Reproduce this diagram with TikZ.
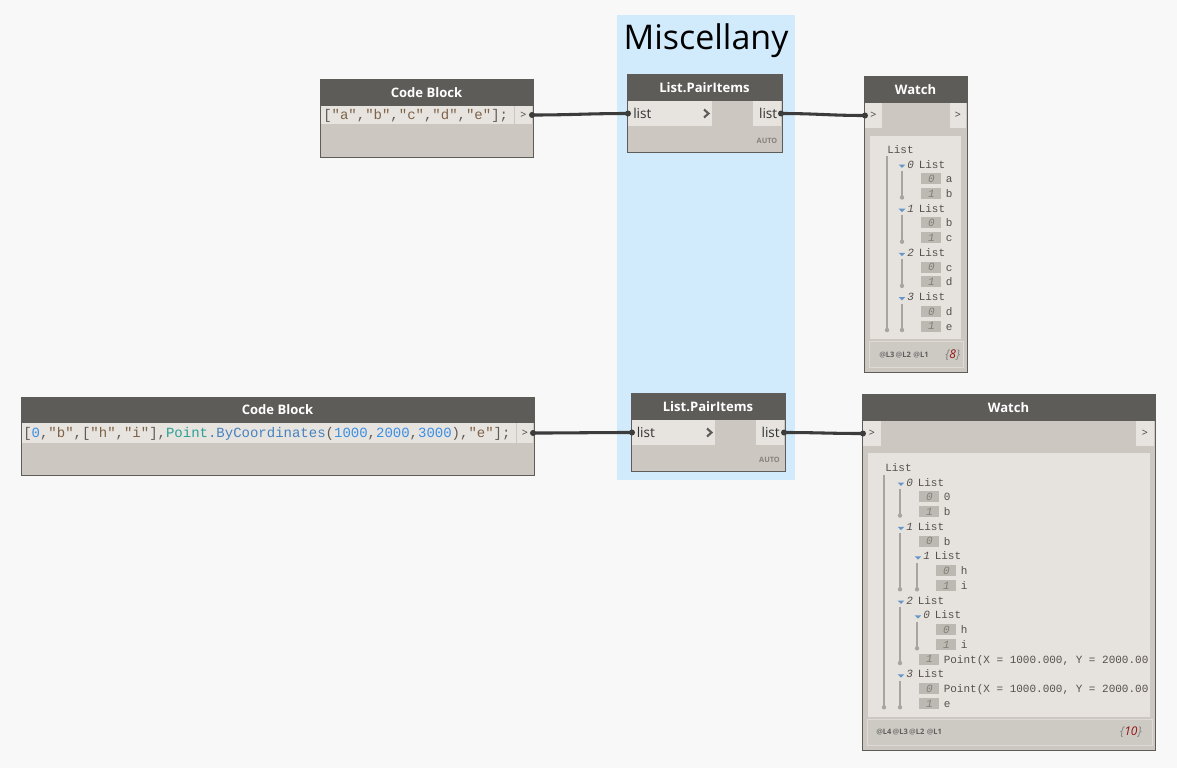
\documentclass[tikz,border=0pt]{standalone}
\usepackage{fontspec}
\setmainfont{Open Sans}
\setmonofont{Liberation Mono}
\definecolor{bg}{RGB}{248,248,248}
\definecolor{grpc}{RGB}{209,235,252}
\definecolor{hdrc}{RGB}{94,92,88}
\definecolor{bodyc}{RGB}{204,200,193}
\definecolor{lightc}{RGB}{231,228,223}
\definecolor{panelc}{RGB}{230,227,222}
\definecolor{footc}{RGB}{205,201,195}
\definecolor{footb}{RGB}{222,219,214}
\definecolor{wirec}{RGB}{60,60,60}
\definecolor{strc}{RGB}{125,98,72}
\definecolor{punc}{RGB}{95,90,85}
\definecolor{numc}{RGB}{58,142,230}
\definecolor{typec}{RGB}{42,160,150}
\definecolor{methc}{RGB}{70,130,190}
\definecolor{idxc}{RGB}{188,184,178}
\definecolor{idxt}{RGB}{130,126,120}
\definecolor{treec}{RGB}{168,164,160}
\definecolor{trib}{RGB}{100,150,200}
\definecolor{valc}{RGB}{85,80,75}
\definecolor{autoc}{RGB}{135,130,124}
\definecolor{redc}{RGB}{150,20,20}
\tikzset{
  boxbase/.style={rectangle, inner sep=0pt, outer sep=0pt},
  nodebody/.style={fill=bodyc, draw=hdrc, line width=0.75pt},
  hdr/.style={fill=hdrc},
  light/.style={fill=lightc},
  panel/.style={fill=panelc},
  foot/.style={fill=footc, draw=footb, line width=0.75pt},
  grpbox/.style={fill=grpc},
  grptitle/.style={font=\fontsize{25.5}{30}\selectfont, text=black, inner sep=0pt},
  title/.style={text=white, font=\bfseries\fontsize{9.8}{11}\selectfont, inner sep=0pt},
  portlbl/.style={text=black!80, font=\fontsize{10.2}{12}\selectfont, inner sep=0pt},
  chevron/.style={draw=hdrc, line width=1.6pt},
  gtl/.style={font=\fontsize{8}{9}\selectfont, text=black!75, inner sep=0pt},
  code/.style={font=\ttfamily\fontsize{10.5}{12}\selectfont, inner sep=0pt, anchor=base west, text=punc},
  val/.style={font=\ttfamily\fontsize{8.25}{10}\selectfont, inner sep=0pt, anchor=base west, text=valc},
  idx/.style={boxbase, fill=idxc, minimum width=15pt, minimum height=8.25pt},
  idxnum/.style={font=\ttfamily\itshape\fontsize{8.25}{10}\selectfont, text=idxt, inner sep=0pt, anchor=base},
  lnum/.style={font=\ttfamily\itshape\fontsize{8.25}{10}\selectfont, text=valc, inner sep=0pt, anchor=base west},
  treeline/.style={draw=treec, line width=0.8pt},
  wire/.style={draw=wirec, line width=2.3pt},
  autol/.style={font=\bfseries\fontsize{5.5}{6}\selectfont, text=autoc, inner sep=0pt},
  ftxt/.style={font=\bfseries\fontsize{5.6}{7}\selectfont, text=hdrc, inner sep=0pt},
  cnt/.style={font=\itshape\fontsize{9}{11}\selectfont, text=gray, inner sep=0pt}
}
\newcommand\rbox[6]{\node[boxbase,#1,minimum width={(#4-#2)*0.75pt},minimum height={(#5-#3)*0.75pt}] (#6) at ({(#2+#4)/2},{(#3+#5)/2}) {};}
\newcommand\witem[5]{%
  \node[idx] (#1-box) at ({#2+10},{#3}) {};
  \node[idxnum] (#1-num) at ({#2+10.5},{#3+3.8}) {#4};
  \node[val] (#1-val) at ({#2+24.5},{#3+4}) {#5};}
\newcommand\wlist[4]{%
  \fill[trib] ({#2-3.3},{#3+0.5}) -- ({#2+3.3},{#3+0.5}) -- ({#2},{#3+3.8}) -- cycle;
  \node[lnum] (#1-num) at ({#2+5},{#3+4}) {#4};
  \node[val] (#1-val) at ({#2+16.5},{#3+4}) {List};}
\newcommand\wline[3]{%
  \draw[treeline] ({#1},{#2}) -- ({#1},{#3});
  \fill[treec] ({#1},{#3}) circle (2.2);}
\newcommand\ra[1]{149.3+14.73*#1}
\newcommand\rb[1]{467.3+14.75*#1}
\begin{document}
\begin{tikzpicture}[x=0.75pt,y=-0.75pt]
\useasboundingbox (0,0) rectangle (1177,768);
\fill[bg] (0,0) rectangle (1177,768);
% group
\rbox{grpbox}{617}{15}{795}{480}{grp}
\node[grptitle, anchor=base] (grpt) at (706,49) {Miscellany};

% Code Block 1
\rbox{nodebody}{320}{79}{533}{157}{cb1}
\rbox{hdr}{320}{79}{533}{106}{cb1h}
\node[title] (cb1t) at (cb1h) {Code Block};
\rbox{light}{321}{106}{514}{124}{cb1code}
\rbox{light}{515}{106}{532}{124}{cb1out}
\node[gtl] (cb1g) at (cb1out) {>};
\node[code] (cb1c) at (323,119.5) {[\textcolor{strc}{"a"},\textcolor{strc}{"b"},\textcolor{strc}{"c"},\textcolor{strc}{"d"},\textcolor{strc}{"e"}];};

% Code Block 2
\rbox{nodebody}{21}{397}{534}{475}{cb2}
\rbox{hdr}{21}{397}{534}{423}{cb2h}
\node[title] (cb2t) at (cb2h) {Code Block};
\rbox{light}{22}{423}{516}{443}{cb2code}
\rbox{light}{517}{423}{533}{443}{cb2out}
\node[gtl] (cb2g) at (cb2out) {>};
\node[code] (cb2c) at (23,437.5) {[\textcolor{numc}{0},\textcolor{strc}{"b"},[\textcolor{strc}{"h"},\textcolor{strc}{"i"}],\textcolor{typec}{Point}\textcolor{methc}{.ByCoordinates}(\textcolor{numc}{1000},\textcolor{numc}{2000},\textcolor{numc}{3000}),\textcolor{strc}{"e"}];};

% List.PairItems 1
\rbox{nodebody}{627}{74}{782}{152}{pi1}
\rbox{hdr}{627}{74}{782}{101}{pi1h}
\node[title] (pi1t) at (pi1h) {List.PairItems};
\rbox{light}{628}{101}{712}{126}{pi1in}
\node[portlbl, anchor=west] (pi1inl) at (633,113.5) {list};
\draw[chevron] (704,109.5) -- (708.5,113.5) -- (704,117.5);
\rbox{light}{753}{101}{781}{126}{pi1out}
\node[portlbl, anchor=east] (pi1outl) at (777.5,113.5) {list};
\node[autol, anchor=east] (pi1auto) at (777.5,141) {AUTO};

% List.PairItems 2
\rbox{nodebody}{631}{393}{785}{471}{pi2}
\rbox{hdr}{631}{393}{785}{420}{pi2h}
\node[title] (pi2t) at (pi2h) {List.PairItems};
\rbox{light}{632}{420}{715}{445}{pi2in}
\node[portlbl, anchor=west] (pi2inl) at (636.5,432.5) {list};
\draw[chevron] (707,428.5) -- (711.5,432.5) -- (707,436.5);
\rbox{light}{756}{420}{784}{445}{pi2out}
\node[portlbl, anchor=east] (pi2outl) at (780,432.5) {list};
\node[autol, anchor=east] (pi2auto) at (780,460) {AUTO};

% Watch 1
\rbox{nodebody}{864}{76}{967}{372}{w1}
\rbox{hdr}{864}{76}{967}{103}{w1head}
\node[title] (w1t) at (w1head) {Watch};
\rbox{light}{865}{103}{882}{128}{w1port}
\node[gtl] (w1portg) at (w1port) {>};
\rbox{light}{950}{103}{966}{128}{w1oport}
\node[gtl] (w1oportg) at (w1oport) {>};
\rbox{panel}{870}{136}{961}{339}{w1panel}
\rbox{foot}{869}{341}{963}{367}{w1foot}
\node[ftxt, anchor=west] (w1ft) at (879,355) {\textcolor{gray}{@}L3\,\textcolor{gray}{@}L2\,\,\textcolor{gray}{@}L1};
\node[cnt, anchor=west] (w1cnt) at (945,355) {\{\textcolor{redc}{8}\}};
\node[val] (w1top) at (887,{\ra{0}+4}) {List};
\wline{887}{156}{\ra{12}+4}
\wlist{w1r1}{902}{\ra{1}}{0}
\witem{w1r2}{921}{\ra{2}}{0}{a}
\witem{w1r3}{921}{\ra{3}}{1}{b}
\wline{902}{\ra{1}+7}{\ra{3}+4}
\wlist{w1r4}{902}{\ra{4}}{1}
\witem{w1r5}{921}{\ra{5}}{0}{b}
\witem{w1r6}{921}{\ra{6}}{1}{c}
\wline{902}{\ra{4}+7}{\ra{6}+4}
\wlist{w1r7}{902}{\ra{7}}{2}
\witem{w1r8}{921}{\ra{8}}{0}{c}
\witem{w1r9}{921}{\ra{9}}{1}{d}
\wline{902}{\ra{7}+7}{\ra{9}+4}
\wlist{w1r10}{902}{\ra{10}}{3}
\witem{w1r11}{921}{\ra{11}}{0}{d}
\witem{w1r12}{921}{\ra{12}}{1}{e}
\wline{902}{\ra{10}+7}{\ra{12}+4}

% Watch 2
\rbox{nodebody}{862}{394}{1155}{750}{w2}
\rbox{hdr}{862}{394}{1155}{421}{w2head}
\node[title] (w2t) at (w2head) {Watch};
\rbox{light}{863}{421}{881}{446}{w2port}
\node[gtl] (w2portg) at (w2port) {>};
\rbox{light}{1136}{421}{1154}{446}{w2oport}
\node[gtl] (w2oportg) at (w2oport) {>};
\rbox{panel}{868}{453}{1150}{717}{w2panel}
\rbox{foot}{867}{719}{1152}{745}{w2foot}
\node[ftxt, anchor=west] (w2ft) at (876,732) {\textcolor{gray}{@}L4\,\textcolor{gray}{@}L3\,\textcolor{gray}{@}L2\,\,\textcolor{gray}{@}L1};
\node[cnt, anchor=east] (w2cnt) at (1142,732) {\{\textcolor{redc}{10}\}};
\begin{scope}
\clip (868,453) rectangle (1150,717);
\node[val] (w2top) at (885,{\rb{0}+4}) {List};
\wline{884}{475}{\rb{16}+4}
\wlist{w2r1}{901}{\rb{1}}{0}
\witem{w2r2}{919}{\rb{2}}{0}{0}
\witem{w2r3}{919}{\rb{3}}{1}{b}
\wline{900}{\rb{1}+7}{\rb{3}+4}
\wlist{w2r4}{901}{\rb{4}}{1}
\witem{w2r5}{919}{\rb{5}}{0}{b}
\wlist{w2r6}{918}{\rb{6}}{1}
\witem{w2r7}{936}{\rb{7}}{0}{h}
\witem{w2r8}{936}{\rb{8}}{1}{i}
\wline{917}{\rb{6}+7}{\rb{8}+4}
\wline{900}{\rb{4}+7}{\rb{8}+4}
\wlist{w2r9}{901}{\rb{9}}{2}
\wlist{w2r10}{918}{\rb{10}}{0}
\witem{w2r11}{936}{\rb{11}}{0}{h}
\witem{w2r12}{936}{\rb{12}}{1}{i}
\wline{917}{\rb{10}+7}{\rb{12}+4}
\witem{w2r13}{919}{\rb{13}}{1}{Point(X = 1000.000, Y = 2000.00}
\wline{900}{\rb{9}+7}{\rb{13}+4}
\wlist{w2r14}{901}{\rb{14}}{3}
\witem{w2r15}{919}{\rb{15}}{0}{Point(X = 1000.000, Y = 2000.00}
\witem{w2r16}{919}{\rb{16}}{1}{e}
\wline{900}{\rb{14}+7}{\rb{16}+4}
\end{scope}

% wires
\draw[wire] (cb1out.east) .. controls +(40,0) and +(-40,0) .. (pi1in.west);
\draw[wire] (pi1out.east) .. controls +(35,0) and +(-35,0) .. (w1port.west);
\draw[wire] (cb2out.east) .. controls +(40,0) and +(-40,0) .. (pi2in.west);
\draw[wire] (pi2out.east) .. controls +(35,0) and +(-35,0) .. (w2port.west);
\foreach \p in {cb1out.east, pi1in.west, pi1out.east, w1port.west, cb2out.east, pi2in.west, pi2out.east, w2port.west}
  \fill[wirec] (\p) circle (3);
\end{tikzpicture}
\end{document}
